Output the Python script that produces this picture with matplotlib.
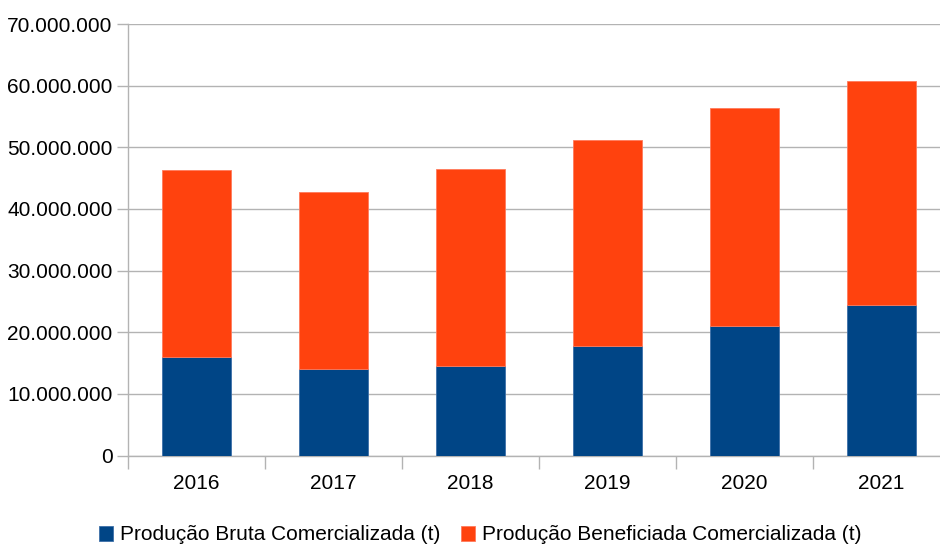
import matplotlib.pyplot as plt
from matplotlib.ticker import FuncFormatter, FixedLocator

years = ['2016', '2017', '2018', '2019', '2020', '2021']
bruta = [15.9e6, 14.0e6, 14.6e6, 17.8e6, 21.0e6, 24.4e6]
beneficiada = [30.4e6, 28.7e6, 31.9e6, 33.4e6, 35.3e6, 36.3e6]
labels = ['Produção Bruta Comercializada (t)', 'Produção Beneficiada Comercializada (t)']

plt.rcParams['font.family'] = ['Liberation Sans', 'DejaVu Sans']

fig = plt.figure(figsize=(9.4, 5.45), dpi=100)
W, H = 940, 545
ax = fig.add_axes([128 / W, 1 - 455.5 / H, 822 / W, (455.5 - 24) / H])

x = list(range(len(years)))
ax.bar(x, bruta, width=0.5, color='#004586', edgecolor='#3d6fa8', linewidth=0.6,
       label=labels[0], zorder=3)
ax.bar(x, beneficiada, width=0.5, bottom=bruta, color='#ff420e', edgecolor='#ff7a5c',
       linewidth=0.6, label=labels[1], zorder=3)

ax.set_xlim(-0.5, 5.5)
ax.set_ylim(0, 70e6)
ax.set_yticks([i * 10e6 for i in range(8)])
ax.yaxis.set_major_formatter(FuncFormatter(lambda v, p: f'{int(v):,}'.replace(',', '.')))
ax.grid(axis='y', color='#b3b3b3', linewidth=1, zorder=0)

# category ticks at boundaries, labels centred
ax.xaxis.set_major_locator(FixedLocator([i - 0.5 for i in range(7)]))
ax.xaxis.set_major_formatter(FuncFormatter(lambda v, p: ''))
ax.xaxis.set_minor_locator(FixedLocator(x))
ax.set_xticklabels(years, minor=True)
ax.tick_params(axis='x', which='major', length=9, color='#b3b3b3', width=1)
ax.tick_params(axis='x', which='minor', length=0, labelsize=15, pad=13)
ax.tick_params(axis='y', length=8, color='#b3b3b3', width=1, labelsize=15, pad=3)

for s in ['top', 'right']:
    ax.spines[s].set_visible(False)
for s in ['left', 'bottom']:
    ax.spines[s].set_color('#b3b3b3')
    ax.spines[s].set_linewidth(1)

fig.legend(loc='center', bbox_to_anchor=(480 / W, 1 - 535 / H), ncol=2, frameon=False,
           fontsize=15, handlelength=0.7, handleheight=0.7, handletextpad=0.3,
           columnspacing=1.0)

fig.savefig('out.png', dpi=100)
